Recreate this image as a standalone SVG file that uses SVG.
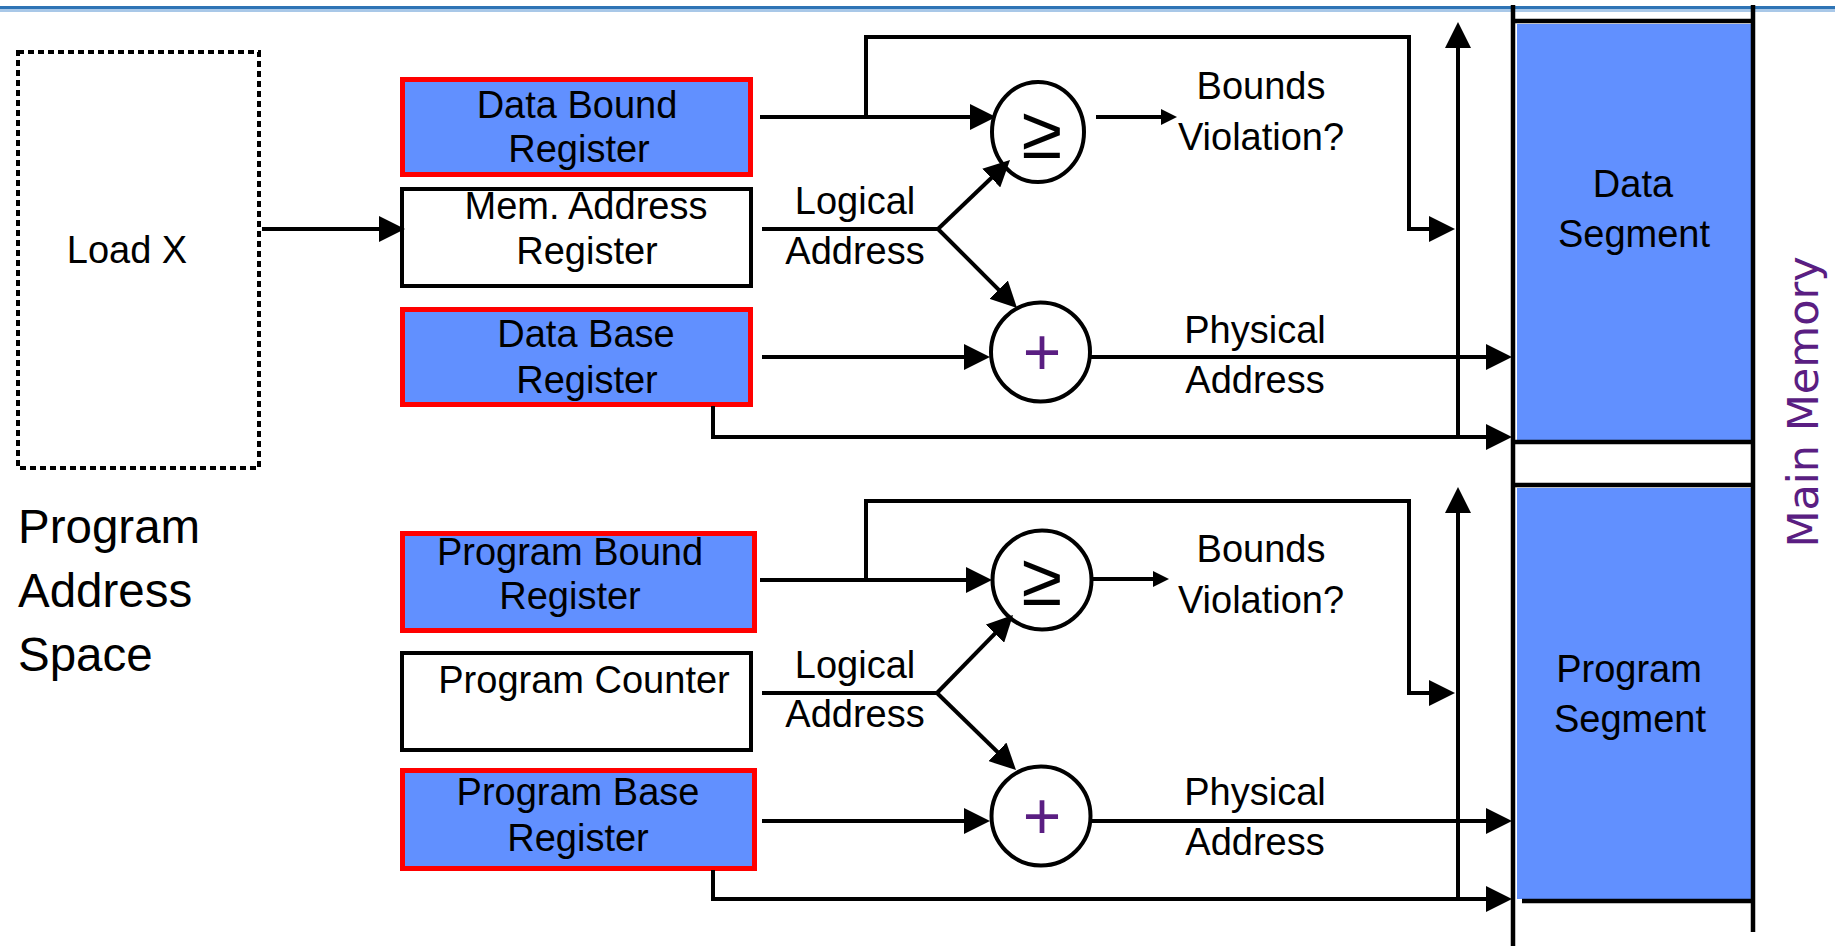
<svg xmlns="http://www.w3.org/2000/svg" width="1835" height="946" viewBox="0 0 1835 946">
<defs>
<style>
.t{font-family:"Liberation Sans",Arial,sans-serif;font-size:38px;fill:#000;text-anchor:middle}
.big{font-family:"Liberation Sans",Arial,sans-serif;font-size:47.5px;fill:#000}
.reg{fill:#6190ff;stroke:#ff0000;stroke-width:5}
.plain{fill:#fff;stroke:#000;stroke-width:4}
.ln{fill:none;stroke:#000;stroke-width:4;stroke-linejoin:miter}
.arr{marker-end:url(#ah)}
.sarr{marker-end:url(#sah)}
.op{fill:#fff;stroke:#000;stroke-width:4}
.ge{font-family:"Liberation Sans",Arial,sans-serif;font-size:74px;fill:#000;text-anchor:middle}
.pl{font-family:"Liberation Sans",Arial,sans-serif;font-size:66px;fill:#5a1e82;text-anchor:middle}
.mem{stroke:#000;stroke-width:4.5;fill:none}
</style>
<marker id="ah" markerUnits="userSpaceOnUse" markerWidth="26" markerHeight="26" refX="20" refY="13" orient="auto">
<path d="M0,0 L26,13 L0,26 z" fill="#000"/>
</marker>
<marker id="sah" markerUnits="userSpaceOnUse" markerWidth="16" markerHeight="16" refX="12" refY="8" orient="auto">
<path d="M0,0 L16,8 L0,16 z" fill="#000"/>
</marker>
</defs>
<rect x="0" y="0" width="1835" height="946" fill="#fff"/>
<rect x="0" y="6" width="1835" height="3" fill="#2e74b5"/>
<rect x="0" y="9" width="1835" height="3" fill="#a9c8e8"/>

<g id="program-address-space">
<rect x="18" y="52" width="241" height="416" fill="none" stroke="#000" stroke-width="4" stroke-dasharray="6 4"/>
<text class="t" x="127" y="263">Load X</text>
<text class="big" x="18" y="543">Program</text>
<text class="big" x="18" y="607">Address</text>
<text class="big" x="18" y="671">Space</text>
</g>

<g id="data-bound-register">
<rect class="reg" x="402.5" y="79.5" width="348" height="95"/>
<text class="t" x="577" y="118">Data Bound</text>
<text class="t" x="579" y="162">Register</text>
</g>
<g id="mem-address-register">
<rect class="plain" x="402" y="189" width="349" height="97"/>
<text class="t" x="586" y="219">Mem. Address</text>
<text class="t" x="587" y="264">Register</text>
</g>
<g id="data-base-register">
<rect class="reg" x="402.5" y="309.5" width="348" height="95"/>
<text class="t" x="586" y="347">Data Base</text>
<text class="t" x="587" y="393">Register</text>
</g>
<g id="program-bound-register">
<rect class="reg" x="402.5" y="533.5" width="352" height="97"/>
<text class="t" x="570" y="565">Program Bound</text>
<text class="t" x="570" y="609">Register</text>
</g>
<g id="program-counter">
<rect class="plain" x="402" y="653" width="349" height="97"/>
<text class="t" x="584" y="693">Program Counter</text>
</g>
<g id="program-base-register">
<rect class="reg" x="402.5" y="770.5" width="352" height="98"/>
<text class="t" x="578" y="805">Program Base</text>
<text class="t" x="578" y="851">Register</text>
</g>

<g id="data-compare">
<ellipse class="op" cx="1038" cy="132" rx="46" ry="50"/>
<text class="ge" x="1042" y="158">≥</text>
</g>
<g id="data-add">
<circle class="op" cx="1040.5" cy="352" r="49.5"/>
<text class="pl" x="1042" y="375">+</text>
</g>
<g id="program-compare">
<circle class="op" cx="1042" cy="580" r="49.5"/>
<text class="ge" x="1042" y="605">≥</text>
</g>
<g id="program-add">
<circle class="op" cx="1041" cy="816" r="49.5"/>
<text class="pl" x="1042" y="839">+</text>
</g>

<g id="labels">
<text class="t" x="855" y="214">Logical</text>
<text class="t" x="855" y="264">Address</text>
<text class="t" x="1261" y="99">Bounds</text>
<text class="t" x="1261" y="150">Violation?</text>
<text class="t" x="1255" y="343">Physical</text>
<text class="t" x="1255" y="393">Address</text>
<text class="t" x="855" y="678">Logical</text>
<text class="t" x="855" y="727">Address</text>
<text class="t" x="1261" y="562">Bounds</text>
<text class="t" x="1261" y="613">Violation?</text>
<text class="t" x="1255" y="805">Physical</text>
<text class="t" x="1255" y="855">Address</text>
</g>

<g id="main-memory">
<rect x="1517" y="24" width="234" height="416" fill="#6190ff"/>
<rect x="1517" y="488" width="234" height="411" fill="#6190ff"/>
<line class="mem" x1="1515" y1="21" x2="1751" y2="21"/>
<line class="mem" x1="1515" y1="442" x2="1751" y2="442"/>
<line class="mem" x1="1515" y1="485" x2="1751" y2="485"/>
<line class="mem" x1="1522" y1="901" x2="1753" y2="901"/>
<line class="mem" x1="1513" y1="5" x2="1513" y2="946"/>
<line class="mem" x1="1753" y1="5" x2="1753" y2="932"/>
<text class="t" x="1633" y="197">Data</text>
<text class="t" x="1634" y="247">Segment</text>
<text class="t" x="1629" y="682">Program</text>
<text class="t" x="1630" y="732">Segment</text>
<text transform="translate(1818,402) rotate(-90)" font-family="DejaVu Sans,Verdana,sans-serif" font-size="43" fill="#5a1e82" text-anchor="middle">Main Memory</text>
</g>

<g id="connectors">
<line class="ln arr" x1="262" y1="229" x2="399" y2="229"/>
<line class="ln arr" x1="760" y1="117" x2="990" y2="117"/>
<polyline class="ln arr" points="866,117 866,37 1409,37 1409,229 1449,229"/>
<line class="ln sarr" x1="1096" y1="117" x2="1173" y2="117"/>
<line class="ln" x1="762" y1="229" x2="938" y2="229"/>
<line class="ln arr" x1="938" y1="229" x2="1005.7" y2="164.2"/>
<line class="ln arr" x1="938" y1="229" x2="1012.8" y2="303.8"/>
<line class="ln arr" x1="762" y1="357" x2="984" y2="357"/>
<line class="ln arr" x1="1090" y1="357" x2="1506" y2="357"/>
<polyline class="ln arr" points="713,406 713,437 1506,437"/>
<line class="ln arr" x1="1458" y1="437" x2="1458" y2="28"/>

<line class="ln arr" x1="760" y1="580" x2="986" y2="580"/>
<polyline class="ln arr" points="866,580 866,501 1409,501 1409,693 1449,693"/>
<line class="ln sarr" x1="1093" y1="579" x2="1165" y2="579"/>
<line class="ln" x1="762" y1="693" x2="937" y2="693"/>
<line class="ln arr" x1="937" y1="693" x2="1008.8" y2="619.3"/>
<line class="ln arr" x1="937" y1="693" x2="1011.7" y2="765.8"/>
<line class="ln arr" x1="762" y1="821" x2="984" y2="821"/>
<line class="ln arr" x1="1091" y1="821" x2="1506" y2="821"/>
<polyline class="ln arr" points="713,870 713,899 1506,899"/>
<line class="ln arr" x1="1458" y1="899" x2="1458" y2="493"/>
</g>
</svg>
